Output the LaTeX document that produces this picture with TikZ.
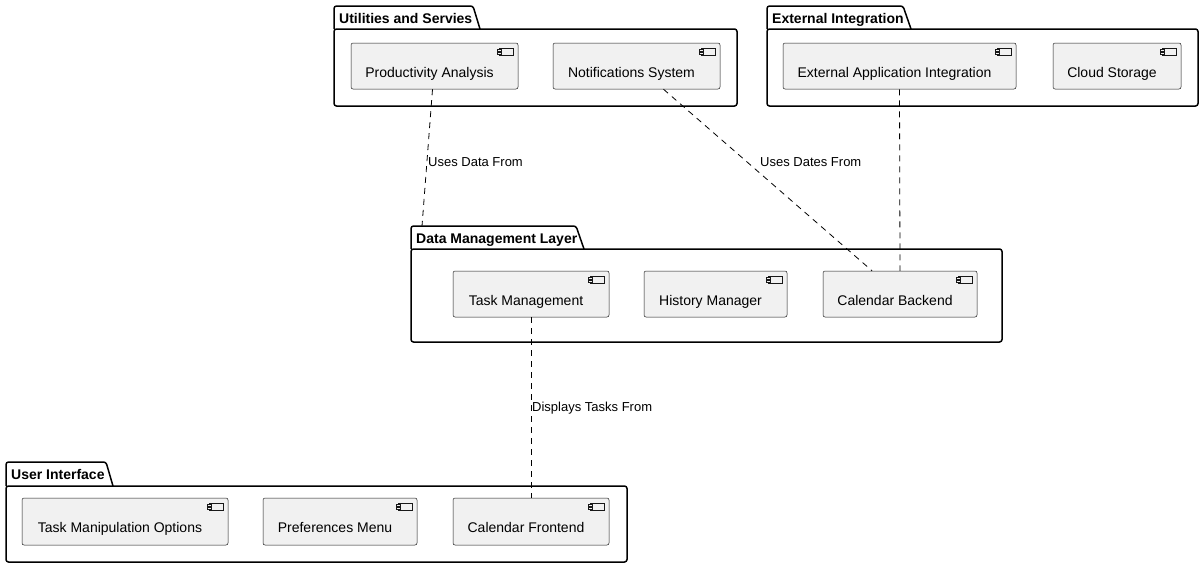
\documentclass[tikz,border=0pt]{standalone}
\usepackage{fontspec}
\setmainfont{Liberation Sans}
\definecolor{compfill}{HTML}{F1F1F1}
\definecolor{compline}{HTML}{181818}
\begin{document}
\begin{tikzpicture}[x=1pt,y=-1pt,
  pkg/.style={draw=black,line width=1.5pt,rounded corners=2.5pt},
  pkgtitle/.style={anchor=base west,inner sep=0,font=\fontsize{14}{16}\selectfont\bfseries},
  comp/.style={draw=compline,fill=compfill,line width=.5pt,rounded corners=2pt,
    minimum height=46pt,inner sep=0,text height=24pt,text depth=2pt,
    font=\fontsize{14}{16}\selectfont,execute at end node={\hspace*{10pt}},
    path picture={
      \draw[compline,line width=.5pt,fill=compfill,sharp corners] ([shift={(-19,5)}]path picture bounding box.north east) rectangle ++(14,7);
      \draw[compline,line width=.5pt,fill=compfill,sharp corners] ([shift={(-21,6.5)}]path picture bounding box.north east) rectangle ++(4,2);
      \draw[compline,line width=.5pt,fill=compfill,sharp corners] ([shift={(-21,9.5)}]path picture bounding box.north east) rectangle ++(4,2);
    }},
  link/.style={draw=black,line width=.8pt,dash pattern=on 6pt off 5pt},
  lbl/.style={anchor=base west,inner sep=0,font=\fontsize{13}{15}\selectfont}]
\useasboundingbox (0,0) rectangle (1204,568);

% Utilities and Servies
\draw[pkg] (334,29) -- (334,6) -- (473,6) -- (480,29);
\draw[pkg] (334,29) rectangle (737,106);
\node[pkgtitle] (ut) at (339,23) {Utilities and Servies};
\node[comp,minimum width=167pt] (pa) at (434.5,66) {Productivity Analysis};
\node[comp,minimum width=167pt] (ns) at (636.5,66) {Notifications System};

% External Integration
\draw[pkg] (767,29) -- (767,6) -- (903,6) -- (911,29);
\draw[pkg] (767,29) rectangle (1198,106);
\node[pkgtitle] (ei) at (772,23) {External Integration};
\node[comp,minimum width=233pt] (eai) at (899.5,66) {External Application Integration};
\node[comp,minimum width=128pt] (cs) at (1117,66) {Cloud Storage};

% Data Management Layer
\draw[pkg] (411,249) -- (411,226) -- (576,226) -- (584,249);
\draw[pkg] (411,249) rectangle (1002,342);
\node[pkgtitle] (dmltitle) at (416,243) {Data Management Layer};
\coordinate (dml) at (422,226);
\node[comp,minimum width=156pt] (tm) at (531,294) {Task Management};
\node[comp,minimum width=143pt] (hm) at (715.5,294) {History Manager};
\node[comp,minimum width=154pt] (cb) at (900,294) {Calendar Backend};

% User Interface
\draw[pkg] (6,486) -- (6,462) -- (106,462) -- (113,486);
\draw[pkg] (6,486) rectangle (627,562);
\node[pkgtitle] (ui) at (11,479) {User Interface};
\node[comp,minimum width=206pt,minimum height=47pt] (tmo) at (125,521.5) {Task Manipulation Options};
\node[comp,minimum width=154pt,minimum height=47pt] (pm) at (340,521.5) {Preferences Menu};
\node[comp,minimum width=156pt,minimum height=47pt] (cf) at (531,521.5) {Calendar Frontend};

% links
\draw[link] ([xshift=-2pt]pa.south) -- (dml);
\draw[link] ([xshift=27pt]ns.south) -- ([xshift=-28pt]cb.north);
\draw[link] (eai.south) -- (cb.north);
\draw[link] (tm.south) -- (cf.north);
\node[lbl] (l1) at (428,166.5) {Uses Data From};
\node[lbl] (l2) at (760,166.5) {Uses Dates From};
\node[lbl] (l3) at (532,411.5) {Displays Tasks From};
\end{tikzpicture}
\end{document}
